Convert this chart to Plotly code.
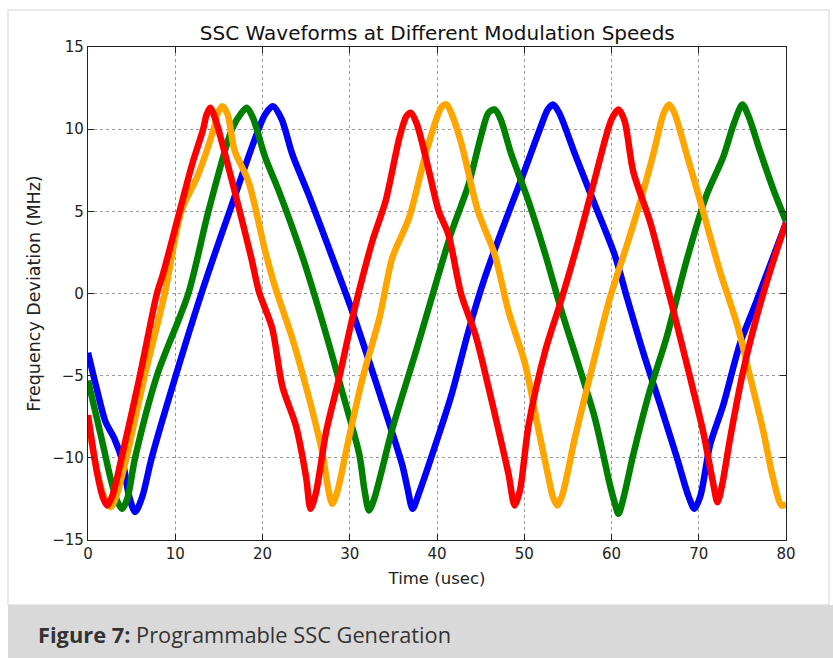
import plotly.graph_objects as go

# readings from the reference picture (time in usec, deviation in MHz)
blue_t = [0, 1.0, 2.0, 3.0, 4.0, 4.7, 5.4, 6.2, 7.3, 10.0, 13.0, 16.1, 20.3, 21.2, 22.2, 23.4,
          25.3, 28.0, 30.3, 32.2, 34.1, 36.0, 36.6, 37.2, 37.9, 40.2, 41.7, 43.6, 45.5, 47.4,
          49.7, 52.0, 52.7, 53.3, 54.0, 55.8, 58.1, 60.4, 61.8, 63.7, 65.6, 67.5, 68.8, 69.5,
          70.2, 71.3, 72.8, 74.7, 76.6, 80]
blue_f = [-3.6, -5.8, -7.8, -8.8, -10.3, -12.3, -13.3, -12.4, -10.0, -5.1, 0.0, 4.8, 10.9, 11.4,
          10.6, 8.5, 6.0, 2.2, -1.1, -4.1, -7.2, -10.4, -11.8, -13.1, -12.2, -8.6, -6.1, -2.3,
          1.0, 3.8, 7.0, 10.3, 11.2, 11.5, 11.0, 8.5, 5.4, 2.3, -0.3, -3.7, -6.8, -10.0, -12.3,
          -13.1, -12.3, -9.2, -6.8, -3.1, -0.5, 4.3]

green_t = [0, 1.5, 2.7, 3.4, 3.9, 4.5, 5.4, 7.9, 11.5, 13.8, 16.5, 17.6, 18.2, 18.9, 20.3, 21.9,
           24.6, 27.3, 29.2, 31.1, 31.7, 32.2, 32.8, 34.9, 37.6, 40.2, 41.7, 43.6, 45.1, 45.9,
           46.6, 47.3, 48.5, 50.5, 52.4, 54.3, 56.2, 58.1, 59.8, 60.4, 60.8, 61.3, 62.5, 64.4,
           66.3, 68.6, 70.9, 72.8, 74.0, 75.0, 75.7, 77.0, 78.5, 80]
green_f = [-5.3, -8.7, -11.5, -12.7, -13.1, -12.5, -10.0, -5.0, 0.0, 5.0, 10.0, 11.0, 11.3, 10.7,
           8.3, 6.2, 2.2, -2.5, -6.1, -9.8, -12.0, -13.2, -12.5, -8.2, -3.5, 1.2, 3.8, 6.6, 9.7,
           11.0, 11.2, 10.6, 8.5, 5.6, 2.4, -1.1, -4.3, -7.6, -11.6, -12.8, -13.4, -12.6, -9.8,
           -5.9, -2.7, 2.0, 6.0, 8.3, 10.3, 11.5, 10.8, 8.7, 6.4, 4.4]

orange_t = [0, 1.2, 2.0, 2.6, 3.2, 4.4, 6.5, 8.8, 10.7, 12.6, 14.4, 14.9, 15.4, 16.0, 16.8, 18.4,
            20.3, 21.5, 23.4, 25.3, 26.9, 27.5, 28.0, 28.6, 29.9, 31.5, 33.4, 34.9, 36.8, 38.7,
            40.2, 40.6, 41.1, 41.7, 42.8, 44.7, 46.6, 48.2, 50.1, 51.6, 52.7, 53.3, 53.8, 54.4,
            55.8, 57.7, 59.8, 61.8, 63.3, 64.8, 66.0, 66.6, 67.2, 68.6, 70.5, 72.4, 74.4, 75.9,
            77.4, 78.5, 79.5, 80]
orange_f = [-7.8, -11.2, -12.6, -13.0, -12.4, -10.0, -5.0, 0.0, 5.0, 7.2, 10.0, 11.0, 11.4, 10.9,
            8.7, 6.8, 2.6, 0.3, -2.7, -6.3, -9.8, -11.8, -12.8, -12.0, -8.8, -5.1, -1.5, 2.2,
            4.6, 8.5, 11.0, 11.4, 11.5, 10.9, 9.1, 5.0, 2.4, -1.1, -4.3, -8.2, -11.0, -12.4,
            -12.9, -12.2, -8.8, -4.7, -0.3, 3.0, 5.6, 8.5, 11.0, 11.5, 11.0, 8.5, 5.0, 1.4,
            -1.9, -5.1, -8.4, -11.2, -12.9, -12.8]

red_t = [0, 1.0, 1.7, 2.2, 2.8, 3.85, 5.95, 7.9, 8.6, 10.5, 11.9, 13.2, 13.6, 14.0, 14.6, 15.7,
         17.2, 18.7, 19.6, 21.1, 22.3, 23.8, 25.0, 25.5, 26.1, 27.3, 28.8, 30.3, 32.6, 34.1,
         35.7, 36.5, 37.0, 37.7, 39.1, 40.2, 41.3, 42.8, 44.4, 45.9, 47.0, 48.2, 48.9, 49.5,
         50.5, 52.4, 54.3, 56.2, 58.1, 60.0, 60.8, 61.5, 62.5, 64.4, 66.0, 67.5, 69.0, 70.5,
         71.6, 72.15, 72.7, 73.6, 75.1, 76.6, 78.2, 80]
red_f = [-7.4, -10.8, -12.4, -12.9, -12.3, -10.0, -5.0, 0.0, 1.2, 5.0, 7.8, 10.0, 10.9, 11.3,
         10.6, 8.5, 5.4, 2.2, 0.1, -2.1, -5.7, -8.0, -11.2, -13.1, -12.2, -8.4, -5.1, -1.5,
         3.2, 5.6, 9.5, 10.8, 11.0, 10.3, 7.4, 5.0, 3.6, -0.1, -2.5, -5.7, -8.2, -11.0, -12.9,
         -12.0, -8.0, -3.5, -0.3, 3.2, 7.0, 10.6, 11.2, 10.5, 7.4, 4.4, 1.2, -1.9, -5.1, -8.4,
         -11.4, -12.7, -11.6, -8.8, -4.7, -1.5, 1.4, 4.3]

x_ticks = [0, 10, 20, 30, 40, 50, 60, 70, 80]
y_ticks = [-15, -10, -5, 0, 5, 10, 15]

series = [
    (blue_t, blue_f, "#0000ff"),
    (green_t, green_f, "#008000"),
    (orange_t, orange_f, "#ffa500"),
    (red_t, red_f, "#ff0000"),
]


def wave(t, f, color):
    return go.Scatter(x=t, y=f, mode="lines", showlegend=False,
                      line=dict(color=color, width=6.5, shape="spline", smoothing=0.8))


fig = go.Figure([wave(*s) for s in series])

axis_common = dict(
    showline=True, linecolor="#222", linewidth=1.2, mirror="allticks",
    ticks="inside", ticklen=6, tickcolor="#222",
    showgrid=True, gridcolor="#9a9a9a", griddash="dot", gridwidth=1,
    zeroline=False, tickfont=dict(family="DejaVu Sans", size=15, color="#222"),
)

fig.update_xaxes(range=[0, 80], tickvals=x_ticks, **axis_common,
                 title=dict(text="Time (usec)", standoff=10,
                            font=dict(family="DejaVu Sans", size=16.5, color="#222")))
fig.update_yaxes(range=[-15, 15], tickvals=y_ticks, **axis_common,
                 title=dict(text="Frequency Deviation (MHz)", standoff=7,
                            font=dict(family="DejaVu Sans", size=17.5, color="#222")))

# page frame and caption bar
fig.add_shape(type="rect", xref="paper", yref="paper", x0=-0.1146, x1=1.0616, y0=-0.1318, y1=1.075,
              line=dict(color="#e2e2e2", width=1.5), fillcolor="rgba(0,0,0,0)", layer="below")
fig.add_shape(type="rect", xref="paper", yref="paper", x0=-0.1146, x1=1.08, y0=-0.25, y1=-0.1318,
              line=dict(width=0), fillcolor="#d9d9d9")
fig.add_annotation(xref="paper", yref="paper", x=-0.0745, y=-0.1907, xanchor="left", yanchor="middle",
                   showarrow=False, text="<b>Figure 7:</b> Programmable SSC Generation",
                   font=dict(family="Open Sans", size=21.8, color="#333"))

fig.update_layout(
    width=833, height=658,
    margin=dict(l=88, r=47, t=47, b=118),
    paper_bgcolor="white", plot_bgcolor="white",
    title=dict(text="SSC Waveforms at Different Modulation Speeds", x=0.525, xanchor="center",
               y=0.95, yanchor="middle", font=dict(family="DejaVu Sans", size=20, color="#111")),
)

fig.write_html("out.html", config={"displayModeBar": False},
               post_script="document.body.style.margin='0';")
